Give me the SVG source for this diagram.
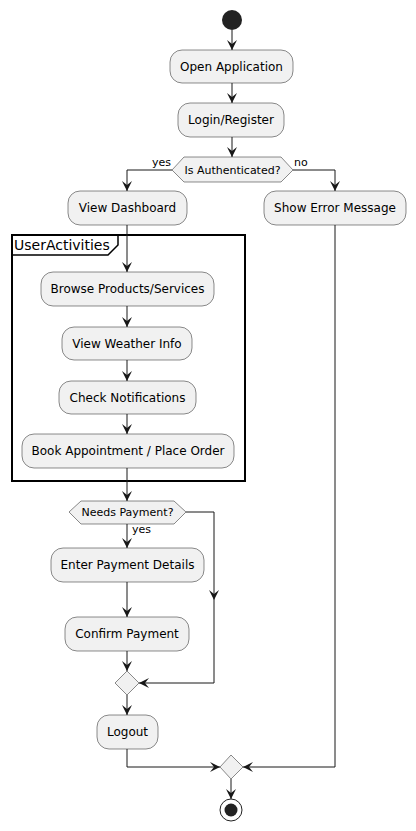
<svg xmlns="http://www.w3.org/2000/svg" width="416" height="831" viewBox="0 0 416 831">
<defs>
<style>
.box{fill:#F1F1F1;stroke:#181818;stroke-width:0.5}
.t{font-family:"DejaVu Sans",sans-serif;font-size:12px;fill:#000;text-anchor:middle}
.s{font-family:"DejaVu Sans",sans-serif;font-size:11px;fill:#000}
.c{fill:none;stroke:#181818;stroke-width:1}
</style>
<marker id="ah" viewBox="0 0 10 10" refX="10" refY="5" markerWidth="10" markerHeight="10" markerUnits="userSpaceOnUse" orient="auto">
<path d="M0,0 L10,5 L0,10 L4,5 Z" fill="#181818"/>
</marker>
</defs>
<rect width="416" height="831" fill="#FFFFFF"/>
<g id="frame">
<rect x="12" y="235" width="233" height="246" fill="none" stroke="#000" stroke-width="2"/>
<path d="M12,255 L108,255 L118,245 L118,235" fill="none" stroke="#000" stroke-width="1.5"/>
<text x="14" y="250" style="font-family:'DejaVu Sans',sans-serif;font-size:14px">UserActivities</text>
</g>
<g id="connectors">
<path class="c" d="M232,30 L232,50" marker-end="url(#ah)"/>
<path class="c" d="M232,83 L232,103" marker-end="url(#ah)"/>
<path class="c" d="M232,137 L232,157" marker-end="url(#ah)"/>
<path class="c" d="M172,170 L127,170 L127,191" marker-end="url(#ah)"/>
<path class="c" d="M293,170 L335,170 L335,191" marker-end="url(#ah)"/>
<path class="c" d="M127,225 L127,272" marker-end="url(#ah)"/>
<path class="c" d="M127,306 L127,327" marker-end="url(#ah)"/>
<path class="c" d="M127,360 L127,381" marker-end="url(#ah)"/>
<path class="c" d="M127,414 L127,434" marker-end="url(#ah)"/>
<path class="c" d="M127,468 L127,501" marker-end="url(#ah)"/>
<path class="c" d="M127,524 L127,548" marker-end="url(#ah)"/>
<path class="c" d="M127,582 L127,617" marker-end="url(#ah)"/>
<path class="c" d="M127,651 L127,671" marker-end="url(#ah)"/>
<path class="c" d="M186,512 L214,512 L214,600" marker-end="url(#ah)"/>
<path class="c" d="M214,600 L214,683 L139,683" marker-end="url(#ah)"/>
<path class="c" d="M127,695 L127,715" marker-end="url(#ah)"/>
<path class="c" d="M127,749 L127,767 L220,767" marker-end="url(#ah)"/>
<path class="c" d="M335,225 L335,767 L243,767" marker-end="url(#ah)"/>
<path class="c" d="M231,779 L231,799" marker-end="url(#ah)"/>
<text class="s" x="152" y="166">yes</text>
<text class="s" x="294" y="166">no</text>
<text class="s" x="132" y="533">yes</text>
</g>
<g id="start"><circle cx="232" cy="20" r="10" fill="#222222"/></g>
<g id="open"><rect class="box" x="170" y="50" width="123" height="33" rx="12"/><text class="t" x="231.5" y="71">Open Application</text></g>
<g id="login"><rect class="box" x="178" y="103" width="106" height="34" rx="12"/><text class="t" x="231" y="124">Login/Register</text></g>
<g id="auth"><polygon class="box" points="172,170 184,157 281,157 293,170 281,182 184,182"/><text class="t" x="232.5" y="174" style="font-size:11px">Is Authenticated?</text></g>
<g id="dashboard"><rect class="box" x="68" y="191" width="119" height="34" rx="12"/><text class="t" x="127.5" y="212">View Dashboard</text></g>
<g id="error"><rect class="box" x="264" y="191" width="142" height="34" rx="12"/><text class="t" x="335" y="212">Show Error Message</text></g>
<g id="browse"><rect class="box" x="41" y="272" width="173" height="34" rx="12"/><text class="t" x="127.5" y="293">Browse Products/Services</text></g>
<g id="weather"><rect class="box" x="62" y="327" width="130" height="33" rx="12"/><text class="t" x="127" y="348">View Weather Info</text></g>
<g id="notif"><rect class="box" x="59" y="381" width="137" height="33" rx="12"/><text class="t" x="127.5" y="402">Check Notifications</text></g>
<g id="book"><rect class="box" x="22" y="434" width="212" height="34" rx="12"/><text class="t" x="128" y="455">Book Appointment / Place Order</text></g>
<g id="needs"><polygon class="box" points="69,512 81,501 174,501 186,512 174,524 81,524"/><text class="t" x="127.5" y="516" style="font-size:11px">Needs Payment?</text></g>
<g id="enter"><rect class="box" x="51" y="548" width="153" height="34" rx="12"/><text class="t" x="127.5" y="569">Enter Payment Details</text></g>
<g id="confirm"><rect class="box" x="65" y="617" width="124" height="34" rx="12"/><text class="t" x="127" y="638">Confirm Payment</text></g>
<g id="merge1"><polygon class="box" points="127,671 139,683 127,695 115,683"/></g>
<g id="logout"><rect class="box" x="97" y="715" width="61" height="34" rx="12"/><text class="t" x="127.5" y="736">Logout</text></g>
<g id="merge2"><polygon class="box" points="231,755 243,767 231,779 220,767"/></g>
<g id="end"><circle cx="231" cy="810" r="11" fill="none" stroke="#222222" stroke-width="1"/><circle cx="231" cy="810" r="6.5" fill="#222222"/></g>
</svg>
